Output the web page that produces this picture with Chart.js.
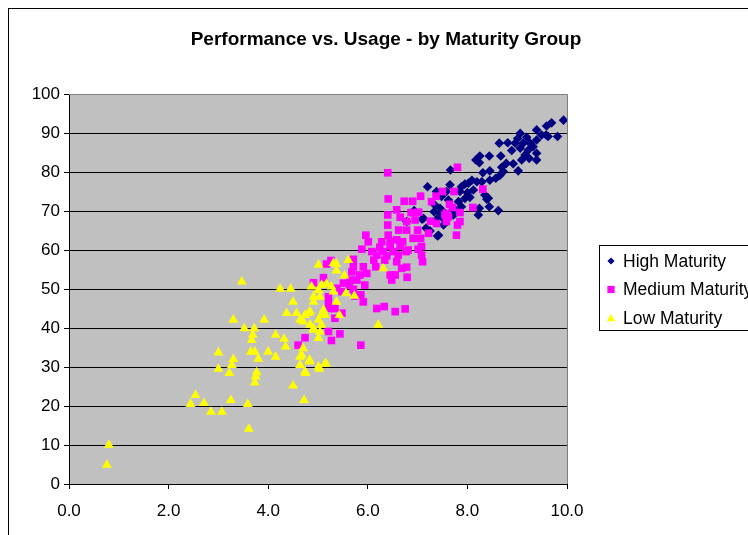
<!DOCTYPE html>
<html><head><meta charset="utf-8">
<script src="https://cdn.jsdelivr.net/npm/chart.js@4.4.1/dist/chart.umd.min.js"></script>
<style>html,body{margin:0;padding:0;background:#fff}#wrap{width:748px;height:535px;position:relative}</style>
</head><body><div id="wrap"><canvas id="c" width="748" height="535"></canvas></div>
<script>
const chartTitle = "Performance vs. Usage - by Maturity Group";
const seriesNames = ["High Maturity", "Medium Maturity", "Low Maturity"];
const xTicks = [0, 2, 4, 6, 8, 10];
const yTicks = [0, 10, 20, 30, 40, 50, 60, 70, 80, 90, 100];

const highX = [9.93,9.69,9.59,9.58,9.39,9.49,9.81,9.62,9.39,9.06,9.01,9.19,9.12,9.26,8.96,8.81,8.64,8.89,9.06,9.22,9.39,9.32,9.16,9.24,9.39,9.09,8.67,8.44,8.25,8.17,8.24,8.78,8.92,8.69,9.02,8.72,8.65,8.45,8.31,7.66,8.57,8.45,8.29,8.19,8.09,8.02,7.95,7.88,8.12,8.00,7.85,7.65,7.58,7.95,8.05,8.35,8.39,8.44,7.82,7.88,7.75,8.24,8.22,8.62,7.72,7.45,7.48,7.20,7.38,7.48,7.62,7.33,7.45,7.55,6.93,7.09,6.78,7.17,7.25,7.42,7.38,7.52,7.12,7.40,7.35,8.42];
const highY = [93.3,92.6,91.8,89.5,90.8,89.5,89.1,89.1,88.2,89.9,88.6,88.9,87.4,87.4,87.4,87.5,87.4,85.5,86.1,85.6,84.8,86.5,84.4,83.5,83.1,83.1,84.1,84.1,84.1,83.1,82.4,82.2,82.1,81.2,80.3,80.1,79.1,80.3,79.8,80.5,78.4,77.9,77.5,77.5,77.9,77.1,76.9,76.2,75.4,74.7,75.0,76.7,75.0,73.2,73.5,74.1,73.0,71.1,72.4,71.1,70.3,70.7,69.0,70.1,69.0,70.7,68.5,76.2,75.0,73.7,72.8,69.8,69.4,69.4,70.1,67.9,67.3,65.6,64.9,63.8,67.9,66.4,68.1,63.6,71.5,73.3];

const mediumX = [6.40,7.80,6.41,6.73,6.90,7.06,7.28,7.37,7.50,7.73,8.31,8.11,6.58,6.40,6.87,7.02,6.65,6.78,6.95,7.26,7.38,7.58,7.85,7.85,7.80,7.58,6.40,6.62,6.78,7.00,7.22,7.78,6.41,6.91,7.06,5.96,6.01,6.28,6.45,6.58,6.70,6.24,6.45,6.65,6.81,7.08,7.01,5.88,6.08,6.31,6.51,6.18,6.38,6.61,6.77,6.12,6.34,6.58,7.08,7.10,5.71,5.71,5.91,6.16,6.68,6.78,5.68,5.84,5.98,6.45,6.55,6.48,6.79,5.64,5.78,5.51,5.63,5.94,5.11,4.91,5.38,5.48,5.71,5.74,5.86,5.91,5.21,5.21,5.23,6.18,6.33,6.55,6.75,5.34,4.74,5.27,5.44,5.86,5.17,5.26,5.48,5.34,5.21,4.60,7.64,7.70,7.55,7.62];
const mediumY = [79.8,81.2,73.1,72.5,72.5,73.8,72.4,73.8,75.0,75.0,75.6,70.9,70.3,69.0,69.6,69.7,68.4,67.3,67.7,67.4,66.8,69.4,69.6,67.3,66.4,67.3,66.4,65.1,65.1,65.1,64.3,63.8,63.8,63.0,63.0,63.8,62.1,62.1,62.1,62.6,62.1,60.7,60.9,61.0,60.0,60.9,60.2,60.2,59.6,59.6,59.6,58.7,58.5,58.7,59.6,57.4,57.4,57.0,58.7,57.0,57.6,55.7,55.7,55.7,55.3,55.6,54.4,53.6,54.0,53.6,53.6,52.3,53.0,52.3,52.3,51.5,51.0,51.0,52.9,51.6,50.2,49.3,49.9,48.2,48.5,46.7,48.0,46.3,45.0,45.0,45.5,44.2,44.9,42.5,37.5,36.8,38.5,35.6,56.4,57.3,43.8,45.0,39.1,35.6,71.7,70.9,69.0,68.5];

const lowX = [0.80,0.76,2.54,2.44,2.71,2.85,3.07,3.25,3.59,3.61,3.73,3.47,4.24,4.45,4.87,4.50,4.37,4.57,4.74,4.84,4.70,4.91,3.30,3.92,3.52,3.72,3.69,3.67,4.15,4.32,4.35,4.91,4.70,3.00,3.30,3.27,3.00,3.22,3.65,3.73,3.80,4.00,4.15,3.77,3.75,4.64,4.64,4.83,4.75,4.50,4.72,5.01,5.31,5.37,5.61,5.37,5.53,6.31,5.07,5.17,5.27,5.31,5.01,4.91,5.04,5.37,5.56,5.73,5.11,5.07,5.14,5.43,4.81,4.64,5.01,4.84,4.91,5.07,5.04,5.01,6.21,4.83,4.67,5.14,5.01,4.74,5.03,5.16];
const lowY = [10.0,4.9,22.8,20.5,20.7,18.5,18.5,21.5,20.5,14.1,26.0,51.9,50.0,50.0,50.6,46.7,43.8,43.8,43.3,44.2,41.6,46.7,42.1,42.1,39.9,39.9,38.2,36.9,38.2,37.2,35.2,39.9,34.8,33.7,32.0,30.5,29.5,28.4,33.9,33.9,32.1,33.9,32.6,28.6,27.5,32.6,30.5,31.4,28.4,25.2,21.5,56.2,56.6,56.4,57.4,54.7,53.4,55.3,51.0,51.3,50.6,49.3,49.7,48.0,48.0,46.7,48.9,48.2,44.6,43.3,43.3,43.3,43.8,42.1,42.1,40.8,39.5,40.8,39.0,37.4,40.8,31.8,33.1,30.8,30.1,28.8,29.5,30.9];

function pts(xs, ys){ return xs.map((x,i)=>({x:x, y:ys[i]})); }

const FONT = "'Liberation Sans', Arial, sans-serif";
const colors = ['#000080', '#FF00FF', '#FFFF00'];
const shapes = ['rectRot', 'rect', 'triangle'];

function drawShape(ctx, shape, x, y, r, color){
  ctx.save(); ctx.fillStyle = color; ctx.beginPath();
  if (shape === 'rectRot'){ ctx.moveTo(x, y-r); ctx.lineTo(x+r, y); ctx.lineTo(x, y+r); ctx.lineTo(x-r, y); }
  else if (shape === 'rect'){ ctx.rect(x-r, y-r, 2*r, 2*r); }
  else { ctx.moveTo(x, y-r); ctx.lineTo(x+r*1.1, y+r*0.8); ctx.lineTo(x-r*1.1, y+r*0.8); }
  ctx.closePath(); ctx.fill(); ctx.restore();
}

const deco = {
  id: 'deco',
  beforeDraw(chart){
    const {ctx, chartArea:a} = chart;
    ctx.save(); ctx.fillStyle = '#C0C0C0';
    ctx.fillRect(a.left, a.top, a.right-a.left, a.bottom-a.top);
    ctx.restore();
  },
  beforeDatasetsDraw(chart){
    const {ctx, chartArea:a} = chart;
    ctx.save(); ctx.strokeStyle = '#808080'; ctx.lineWidth = 1;
    ctx.beginPath(); ctx.moveTo(a.left, a.top+0.5); ctx.lineTo(a.right+0.5, a.top+0.5);
    ctx.lineTo(a.right+0.5, a.bottom); ctx.stroke(); ctx.restore();
  },
  afterDraw(chart){
    const ctx = chart.ctx;
    ctx.save();
    ctx.strokeStyle = '#000'; ctx.lineWidth = 1;
    ctx.strokeRect(8.5, 8.5, 900, 700);
    ctx.fillStyle = '#000'; ctx.font = 'bold 19px ' + FONT;
    ctx.textAlign = 'center'; ctx.textBaseline = 'middle';
    ctx.fillText(chartTitle, 386, 40);
    ctx.fillStyle = '#fff'; ctx.fillRect(599.5, 245.5, 200, 85);
    ctx.strokeStyle = '#000'; ctx.strokeRect(599.5, 245.5, 200, 85);
    ctx.font = '17.5px ' + FONT; ctx.textAlign = 'left'; ctx.textBaseline = 'middle';
    chart.data.datasets.forEach((ds, i) => {
      const y = 261 + i*28.5;
      drawShape(ctx, shapes[i], 611, y, i===2?4:3.6, ds.backgroundColor);
      ctx.fillStyle = '#000';
      ctx.fillText(ds.label, 623, y+1);
    });
    ctx.restore();
  }
};

new Chart(document.getElementById('c'), {
  type: 'scatter',
  data: { datasets: [
    { label: seriesNames[0], data: pts(highX, highY), backgroundColor: colors[0], borderColor: colors[0], pointStyle: 'rectRot', pointRadius: 4.8, borderWidth: 0, order: 3 },
    { label: seriesNames[1], data: pts(mediumX, mediumY), backgroundColor: colors[1], borderColor: colors[1], pointStyle: 'rect', pointRadius: 5.4, borderWidth: 0, order: 2 },
    { label: seriesNames[2], data: pts(lowX, lowY), backgroundColor: colors[2], borderColor: colors[2], pointStyle: 'triangle', pointRadius: 5.7, borderWidth: 0, order: 1 }
  ]},
  options: {
    responsive: false, animation: false, devicePixelRatio: 1,
    layout: { padding: { top: 94, right: 181, left: 0, bottom: 0 } },
    plugins: { legend: { display: false }, title: { display: false }, tooltip: { enabled: false } },
    scales: {
      x: {
        type: 'linear', min: 0, max: 10,
        afterBuildTicks: s => { s.ticks = xTicks.map(v => ({value: v})); },
        afterFit: s => { s.height = 51; },
        ticks: { callback: v => Number(v).toFixed(1), color: '#000', font: { family: FONT, size: 17 }, padding: 12, maxRotation: 0 },
        grid: { drawOnChartArea: false, drawTicks: true, tickLength: 5, tickColor: '#000' },
        border: { color: '#000', width: 1 }
      },
      y: {
        type: 'linear', min: 0, max: 100,
        afterBuildTicks: s => { s.ticks = yTicks.map(v => ({value: v})); },
        afterFit: s => { s.width = 69; },
        ticks: { color: '#000', font: { family: FONT, size: 17 }, padding: 4 },
        grid: { color: c => (c.tick && c.tick.value === 100) ? '#808080' : '#000', tickLength: 5, tickColor: '#000', lineWidth: 1 },
        border: { color: '#000', width: 1 }
      }
    }
  },
  plugins: [deco]
});
</script>
</body></html>
